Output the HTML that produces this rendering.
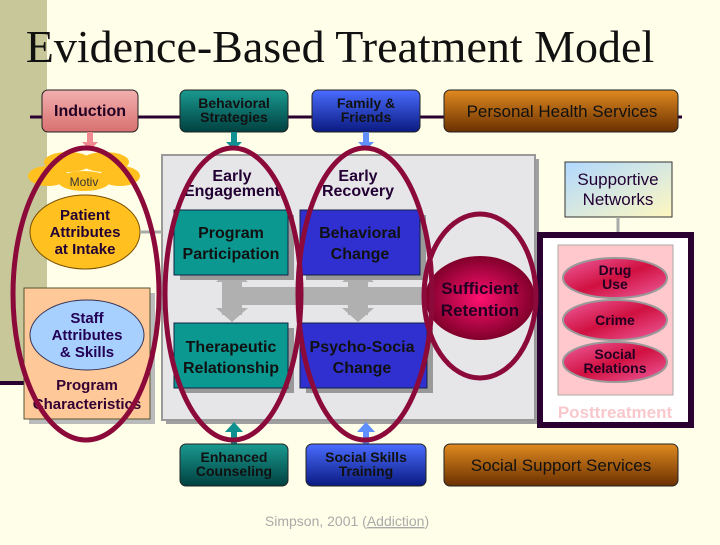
<!DOCTYPE html>
<html><head><meta charset="utf-8"><style>
body{margin:0;width:720px;height:540px;overflow:hidden;background:#fffee8}
svg text{font-family:"Liberation Sans",sans-serif;font-weight:bold;text-anchor:middle}
</style></head><body>
<svg width="720" height="540" viewBox="0 0 720 540">
<defs>
<linearGradient id="pk" x1="0" y1="0" x2="0" y2="1"><stop offset="0" stop-color="#f3b0b0"/><stop offset="1" stop-color="#d87070"/></linearGradient>
<linearGradient id="tl" x1="0" y1="0" x2="0" y2="1"><stop offset="0" stop-color="#1a9a90"/><stop offset="1" stop-color="#004040"/></linearGradient>
<linearGradient id="bl" x1="0" y1="0" x2="0" y2="1"><stop offset="0" stop-color="#4a6cff"/><stop offset="1" stop-color="#0a1a80"/></linearGradient>
<linearGradient id="br" x1="0" y1="0" x2="0" y2="1"><stop offset="0" stop-color="#e08a20"/><stop offset="1" stop-color="#6a3000"/></linearGradient>
<linearGradient id="sn" x1="0" y1="0" x2="1" y2="1"><stop offset="0" stop-color="#b0d8ff"/><stop offset="1" stop-color="#fff8c0"/></linearGradient>
<radialGradient id="sr"><stop offset="0" stop-color="#ff1070"/><stop offset="1" stop-color="#80002a"/></radialGradient>
<linearGradient id="el" x1="0" y1="0" x2="1" y2="1"><stop offset="0" stop-color="#f060a0"/><stop offset="0.5" stop-color="#d01040"/><stop offset="1" stop-color="#f060a0"/></linearGradient>
</defs>
<rect x="0" y="0" width="47" height="382" fill="#c8c79a"/>
<rect x="0" y="381" width="28" height="4" fill="#2a0030"/>
<text x="340" y="62" style="font-family:'Liberation Serif',serif;font-weight:normal;font-size:46px;fill:#111">Evidence-Based Treatment Model</text>
<line x1="30" y1="117" x2="682" y2="117" stroke="#2a0030" stroke-width="3"/>
<rect x="166" y="159" width="373" height="265" fill="#a0a0a0"/>
<rect x="162" y="155" width="373" height="265" fill="#e6e6e8" stroke="#999" stroke-width="2"/>
<g fill="#b0b0b0">
<rect x="222" y="275" width="20" height="40"/><polygon points="232,268 216,282 248,282"/><polygon points="232,322 216,308 248,308"/>
<rect x="348" y="275" width="20" height="40"/><polygon points="358,268 342,282 374,282"/><polygon points="358,322 342,308 374,308"/>
<rect x="240" y="287" width="185" height="18"/><polygon points="540,285 556,298 540,311"/>
</g>
<rect x="42" y="90" width="96" height="42" rx="6" fill="url(#pk)" stroke="#222"/>
<text x="90" y="116" font-size="16" fill="#220022">Induction</text>
<rect x="180" y="90" width="108" height="42" rx="6" fill="url(#tl)" stroke="#222"/>
<text x="234" y="108" font-size="14" fill="#111">Behavioral</text><text x="234" y="122" font-size="14" fill="#111">Strategies</text>
<rect x="312" y="90" width="108" height="42" rx="6" fill="url(#bl)" stroke="#222"/>
<text x="366" y="108" font-size="14" fill="#111">Family &amp;</text><text x="366" y="122" font-size="14" fill="#111">Friends</text>
<rect x="444" y="90" width="234" height="42" rx="6" fill="url(#br)" stroke="#222"/>
<text x="562" y="117" font-size="17" fill="#111" style="font-weight:normal">Personal Health Services</text>
<rect x="87" y="132" width="6" height="12" fill="#f08a90"/><polygon points="82,142 98,142 90,150" fill="#f08a90"/>
<rect x="231" y="132" width="6" height="12" fill="#109090"/><polygon points="226,142 242,142 234,150" fill="#109090"/>
<rect x="363" y="132" width="6" height="12" fill="#6090ff"/><polygon points="358,142 374,142 366,150" fill="#6090ff"/>
<g fill="#ffc020"><ellipse cx="48" cy="176" rx="20" ry="10"/><ellipse cx="120" cy="176" rx="20" ry="10"/><ellipse cx="68" cy="162" rx="24" ry="10"/><ellipse cx="105" cy="162" rx="24" ry="10"/><ellipse cx="84" cy="181" rx="26" ry="10"/></g>
<text x="84" y="186" font-size="12" fill="#333" style="font-weight:normal">Motiv</text>
<ellipse cx="85" cy="232" rx="55" ry="37" fill="#ffc020" stroke="#7a5000"/>
<text x="85" y="220" font-size="15" fill="#220033">Patient</text><text x="85" y="237" font-size="15" fill="#220033">Attributes</text><text x="85" y="254" font-size="15" fill="#220033">at Intake</text>
<line x1="140" y1="232" x2="162" y2="232" stroke="#aaa" stroke-width="3"/>
<rect x="29" y="293" width="126" height="131" fill="#bbb"/>
<rect x="24" y="288" width="126" height="131" fill="#ffc898" stroke="#553"/>
<ellipse cx="87" cy="335" rx="57" ry="35" fill="#a8d0ff" stroke="#335"/>
<text x="87" y="323" font-size="15" fill="#220055">Staff</text><text x="87" y="340" font-size="15" fill="#220055">Attributes</text><text x="87" y="357" font-size="15" fill="#220055">&amp; Skills</text>
<text x="87" y="390" font-size="15" fill="#330033">Program</text><text x="87" y="409" font-size="15" fill="#330033">Characteristics</text>
<text x="232" y="181" font-size="16" fill="#220033">Early</text><text x="232" y="196" font-size="16" fill="#220033">Engagement</text>
<text x="358" y="181" font-size="16" fill="#220033">Early</text><text x="358" y="196" font-size="16" fill="#220033">Recovery</text>
<rect x="180" y="215" width="114" height="65" fill="#999"/>
<rect x="174" y="210" width="114" height="65" fill="#0a9890" stroke="#124"/>
<text x="231" y="238" font-size="16" fill="#111">Program</text><text x="231" y="259" font-size="16" fill="#111">Participation</text>
<rect x="306" y="215" width="120" height="65" fill="#999"/>
<rect x="300" y="210" width="120" height="65" fill="#3030d0" stroke="#124"/>
<text x="360" y="238" font-size="16" fill="#111">Behavioral</text><text x="360" y="259" font-size="16" fill="#111">Change</text>
<rect x="180" y="328" width="114" height="65" fill="#999"/>
<rect x="174" y="323" width="114" height="65" fill="#0a9890" stroke="#124"/>
<text x="231" y="352" font-size="16" fill="#111">Therapeutic</text><text x="231" y="373" font-size="16" fill="#111">Relationship</text>
<rect x="306" y="328" width="127" height="65" fill="#999"/>
<rect x="300" y="323" width="127" height="65" fill="#3030d0" stroke="#124"/>
<text x="362" y="352" font-size="16" fill="#111">Psycho-Socia</text><text x="362" y="373" font-size="16" fill="#111">Change</text>
<ellipse cx="480" cy="298" rx="55" ry="42" fill="url(#sr)"/>
<text x="480" y="294" font-size="17" fill="#220022">Sufficient</text><text x="480" y="316" font-size="17" fill="#220022">Retention</text>
<rect x="231" y="430" width="6" height="14" fill="#109090"/><polygon points="225,432 243,432 234,422" fill="#109090"/>
<rect x="363" y="430" width="6" height="14" fill="#6090ff"/><polygon points="357,432 375,432 366,422" fill="#6090ff"/>
<rect x="180" y="444" width="108" height="42" rx="6" fill="url(#tl)" stroke="#222"/>
<text x="234" y="462" font-size="14" fill="#111">Enhanced</text><text x="234" y="476" font-size="14" fill="#111">Counseling</text>
<rect x="306" y="444" width="120" height="42" rx="6" fill="url(#bl)" stroke="#222"/>
<text x="366" y="462" font-size="14" fill="#111">Social Skills</text><text x="366" y="476" font-size="14" fill="#111">Training</text>
<rect x="444" y="444" width="234" height="42" rx="6" fill="url(#br)" stroke="#222"/>
<text x="561" y="471" font-size="17" fill="#111" style="font-weight:normal">Social Support Services</text>
<rect x="565" y="162" width="107" height="55" fill="url(#sn)" stroke="#333"/>
<text x="618" y="185" font-size="17" fill="#220033" style="font-weight:normal">Supportive</text><text x="618" y="205" font-size="17" fill="#220033" style="font-weight:normal">Networks</text>
<line x1="618" y1="217" x2="618" y2="240" stroke="#aaa" stroke-width="3"/>
<rect x="540" y="235" width="151" height="190" fill="#fff" stroke="#2a0030" stroke-width="6"/>
<rect x="558" y="245" width="115" height="150" fill="#ffc8cc" stroke="#aaa"/>
<g stroke="#999" stroke-width="2" fill="url(#el)"><ellipse cx="615" cy="278" rx="52" ry="20"/><ellipse cx="615" cy="320" rx="52" ry="20"/><ellipse cx="615" cy="362" rx="52" ry="20"/></g>
<text x="615" y="275" font-size="14" fill="#220022">Drug</text><text x="615" y="289" font-size="14" fill="#220022">Use</text>
<text x="615" y="325" font-size="14" fill="#220022">Crime</text>
<text x="615" y="359" font-size="14" fill="#220022">Social</text><text x="615" y="373" font-size="14" fill="#220022">Relations</text>
<text x="615" y="418" font-size="17" fill="#f8c8cc">Posttreatment</text>
<g fill="none" stroke="#8b0a3a" stroke-width="5">
<ellipse cx="86" cy="294" rx="73" ry="146"/>
<ellipse cx="233" cy="294" rx="68" ry="146"/>
<ellipse cx="365" cy="294" rx="67" ry="146"/>
<ellipse cx="480" cy="296" rx="56" ry="82"/>
</g>
<text x="347" y="526" font-size="14" fill="#aaa" style="font-weight:normal">Simpson, 2001 (<tspan text-decoration="underline">Addiction</tspan>)</text>
</svg>
</body></html>
